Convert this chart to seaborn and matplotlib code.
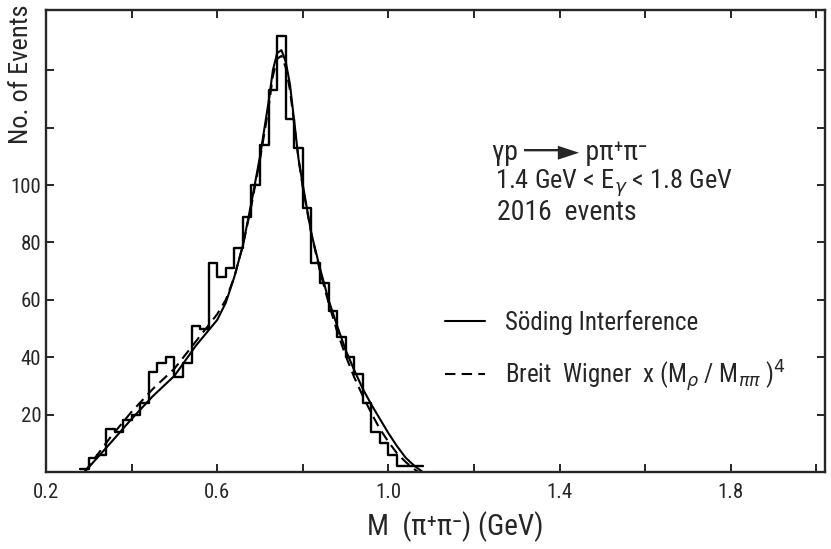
import numpy as np
import pandas as pd
import matplotlib
matplotlib.use("Agg")
import matplotlib.pyplot as plt
import seaborn as sns
from matplotlib.ticker import FixedLocator, NullFormatter
from matplotlib import font_manager

# histogram: bin edges (GeV) and counts per 0.02 GeV bin
bin_edges = [0.28, 0.30, 0.32, 0.34, 0.36, 0.38, 0.40, 0.42, 0.44, 0.46,
             0.48, 0.50, 0.52, 0.54, 0.56, 0.58, 0.60, 0.62, 0.64, 0.66,
             0.68, 0.70, 0.72, 0.74, 0.76, 0.78, 0.80, 0.82, 0.84, 0.86,
             0.88, 0.90, 0.92, 0.94, 0.96, 0.98, 1.00, 1.02, 1.04, 1.06, 1.08]
counts = [1, 5, 6, 15, 14, 18, 20, 24, 35, 38,
          40, 33, 38, 51, 50, 73, 68, 71, 78, 89,
          100, 114, 133, 152, 123, 113, 92, 73, 66, 56,
          47, 40, 34, 24, 14, 10, 6, 2, 2, 2]

# Soeding interference fit (solid)
soding_m = [0.29, 0.32, 0.35, 0.40, 0.45, 0.50, 0.55, 0.60, 0.62, 0.64, 0.66,
            0.68, 0.70, 0.72, 0.73, 0.74, 0.75, 0.76, 0.77, 0.78, 0.79, 0.80,
            0.82, 0.84, 0.86, 0.88, 0.90, 0.92, 0.94, 0.96, 0.98, 1.00, 1.02,
            1.04, 1.06, 1.08]
soding_n = [0, 5, 10, 18.5, 26.5, 33.5, 44, 53, 59, 68, 79,
            94, 110, 129, 140, 146, 147, 143, 135, 122, 109, 100,
            83, 71, 60, 51, 42.5, 35.5, 29, 23.5, 18.5, 13.5, 9,
            5, 2.2, 0]

# Breit Wigner x (M_rho/M_pipi)^4 (dashed)
bw_m = [0.29, 0.32, 0.35, 0.40, 0.45, 0.50, 0.55, 0.60, 0.62, 0.64, 0.66,
        0.68, 0.70, 0.72, 0.73, 0.74, 0.75, 0.76, 0.77, 0.78, 0.79, 0.80,
        0.82, 0.84, 0.86, 0.88, 0.90, 0.92, 0.94, 0.96, 0.98, 1.00, 1.02,
        1.04, 1.06, 1.07]
bw_n = [0, 6, 12, 21, 29, 36, 45.5, 55, 60, 68, 79,
        93, 109, 127, 138, 144, 145, 141, 133, 121, 109, 99,
        83, 70, 59, 49, 40.5, 33, 26.5, 20.5, 15, 10.5, 6.5,
        3.5, 1, 0]

x_major = [0.2, 0.6, 1.0, 1.4, 1.8]
x_minor = [0.4, 0.8, 1.2, 1.6, 2.0]
y_major = [20, 40, 60, 80, 100]
y_minor = [120, 140]

sns.set_style("ticks")
installed = {f.name for f in font_manager.fontManager.ttflist}
fams = [f for f in ["Roboto Condensed", "Roboto", "DejaVu Sans"] if f in installed]
plt.rcParams["font.family"] = fams

centers = [(a + b) / 2 for a, b in zip(bin_edges[:-1], bin_edges[1:])]
hist_df = pd.DataFrame({"mass": centers, "n": counts})
sod_df = pd.DataFrame({"mass": soding_m, "n": soding_n})
bw_df = pd.DataFrame({"mass": bw_m, "n": bw_n})

fig = plt.figure(figsize=(8.31, 5.49), dpi=100)
ax = fig.add_axes([0.0554, 0.1403, 0.9374, 0.8415])

sns.histplot(data=hist_df, x="mass", weights="n", bins=bin_edges,
             element="step", fill=False, color="black", linewidth=1.7, ax=ax)
sns.lineplot(data=sod_df, x="mass", y="n", color="black", linewidth=1.5,
             sort=False, estimator=None, label="Söding Interference", ax=ax)
sns.lineplot(data=bw_df, x="mass", y="n", color="black", linewidth=1.5,
             sort=False, estimator=None, ax=ax,
             label=r"Breit  Wigner  x (M$_\rho$ / M$_{\pi\pi}$ )$^4$")
ax.lines[-1].set_dashes((5, 3))

ax.set_xlim(0.2, 2.02)
ax.set_ylim(0, 161)

ax.xaxis.set_major_locator(FixedLocator(x_major))
ax.xaxis.set_minor_locator(FixedLocator(x_minor))
ax.yaxis.set_major_locator(FixedLocator(y_major))
ax.yaxis.set_minor_locator(FixedLocator(y_minor))
ax.yaxis.set_minor_formatter(NullFormatter())
ax.set_xticklabels([f"{v:.1f}" for v in x_major])
ax.tick_params(which="both", direction="in", top=True, right=True,
               length=6, width=1.4, labelsize=15)
ax.tick_params(axis="x", pad=8)

for s in ax.spines.values():
    s.set_linewidth(1.7)

ax.set_xlabel("M  (π⁺π⁻) (GeV)", fontsize=21, family=fams)
ax.set_ylabel("No. of Events", fontsize=19, family=fams)
ax.yaxis.set_label_coords(-0.017, 0.86)
ax.xaxis.set_label_coords(0.525, -0.085)

ax.text(1.242, 111.5, "γp ──► pπ⁺π⁻", fontsize=20, va="center", family=fams)
ax.text(1.249, 100.5, r"1.4 GeV < E$_\gamma$ < 1.8 GeV", fontsize=19,
        va="center", family=fams)
ax.text(1.254, 90.5, "2016  events", fontsize=20, va="center", family=fams)

ax.legend(frameon=False, loc="upper left", bbox_to_anchor=(0.512, 0.35),
          borderaxespad=0, borderpad=0, handlelength=1.6, handletextpad=0.8,
          labelspacing=0.9, fontsize=18)

fig.savefig("out.png", dpi=100)
